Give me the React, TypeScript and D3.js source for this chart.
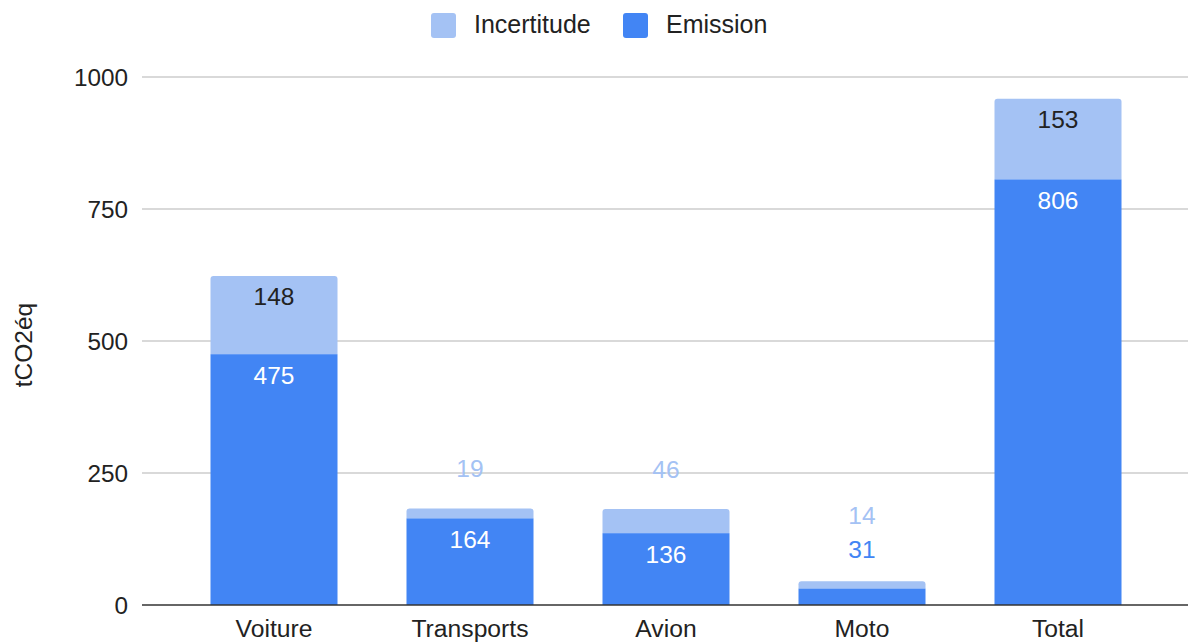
import React from "react";
import * as d3 from "d3";

const categories = ["Voiture", "Transports", "Avion", "Moto", "Total"];
const emission = [475, 164, 136, 31, 806];
const incertitude = [148, 19, 46, 14, 153];
const yTicks = [0, 250, 500, 750, 1000];
const seriesNames = ["Incertitude", "Emission"];

const W = 1188;
const H = 644;
const FONT = "'Liberation Sans', Arial, sans-serif";
const C_EM = "#4285f4";
const C_IN = "#a4c2f4";

export default function App() {
  const y = d3.scaleLinear().domain([0, 1000]).range([605, 77]);
  const x = d3.scaleBand<string>().domain(categories).range([176, 1156]).paddingInner(0.352).paddingOuter(0.176);
  const bw = x.bandwidth();
  const minInside = 40;

  const bars = categories.map((c, i) => {
    const e = emission[i];
    const u = incertitude[i];
    const x0 = x(c)!;
    const cx = x0 + bw / 2;
    const yE = y(e);
    const yT = y(e + u);
    const hE = y(0) - yE;
    const hU = yE - yT;
    const eInside = hE >= minInside;
    const uInside = hU >= minInside;
    const labels: { text: string; y: number; fill: string }[] = [];
    let eLabelY = 0;
    if (eInside) {
      eLabelY = yE + 30;
      labels.push({ text: String(e), y: eLabelY, fill: "#ffffff" });
    } else {
      eLabelY = yT - 23;
      labels.push({ text: String(e), y: eLabelY, fill: C_EM });
    }
    if (uInside) {
      labels.push({ text: String(u), y: yT + 29, fill: "#222222" });
    } else {
      const ly = eInside ? yT - 31 : eLabelY - 34;
      labels.push({ text: String(u), y: ly, fill: C_IN });
    }
    return { c, x0, cx, yE, yT, hE, hU, labels };
  });

  const legendItems = [
    { name: seriesNames[0], color: C_IN, x: 431 },
    { name: seriesNames[1], color: C_EM, x: 623 },
  ];

  return (
    <svg width={W} height={H} style={{ position: "absolute", left: 0, top: 0, background: "#fff" }} fontFamily={FONT}>
      <rect x={0} y={0} width={W} height={H} fill="#ffffff" />
      {/* legend */}
      {legendItems.map((l) => (
        <g key={l.name}>
          <rect x={l.x} y={13} width={25} height={25} rx={3} fill={l.color} />
          <text x={l.x + 43} y={33} fontSize={25} fill="#222222">{l.name}</text>
        </g>
      ))}
      {/* gridlines */}
      {yTicks.map((t) => (
        <g key={t}>
          {t !== 0 && (
            <line x1={142} x2={W} y1={y(t)} y2={y(t)} stroke="#cccccc" strokeWidth={1.6} />
          )}
          <text x={128} y={y(t)} dy="0.35em" textAnchor="end" fontSize={24.3} fill="#222222">{t}</text>
        </g>
      ))}
      {/* y title */}
      <text transform={`translate(32,345) rotate(-90)`} textAnchor="middle" fontSize={24.5} fill="#222222">tCO2éq</text>
      {/* bars */}
      {bars.map((b) => (
        <g key={b.c}>
          <path
            d={`M${b.x0},${b.yE} L${b.x0},${b.yT + 3} Q${b.x0},${b.yT} ${b.x0 + 3},${b.yT} L${b.x0 + bw - 3},${b.yT} Q${b.x0 + bw},${b.yT} ${b.x0 + bw},${b.yT + 3} L${b.x0 + bw},${b.yE} Z`}
            fill={C_IN}
          />
          <rect x={b.x0} y={b.yE} width={bw} height={b.hE} fill={C_EM} />
          {b.labels.map((l, k) => (
            <text key={k} x={b.cx} y={l.y} textAnchor="middle" fontSize={24.5} fill={l.fill}>{l.text}</text>
          ))}
          <text x={b.cx} y={637} textAnchor="middle" fontSize={24.7} fill="#222222">{b.c}</text>
        </g>
      ))}
      {/* baseline */}
      <line x1={142} x2={W} y1={y(0)} y2={y(0)} stroke="#333333" strokeWidth={1.6} />
    </svg>
  );
}
